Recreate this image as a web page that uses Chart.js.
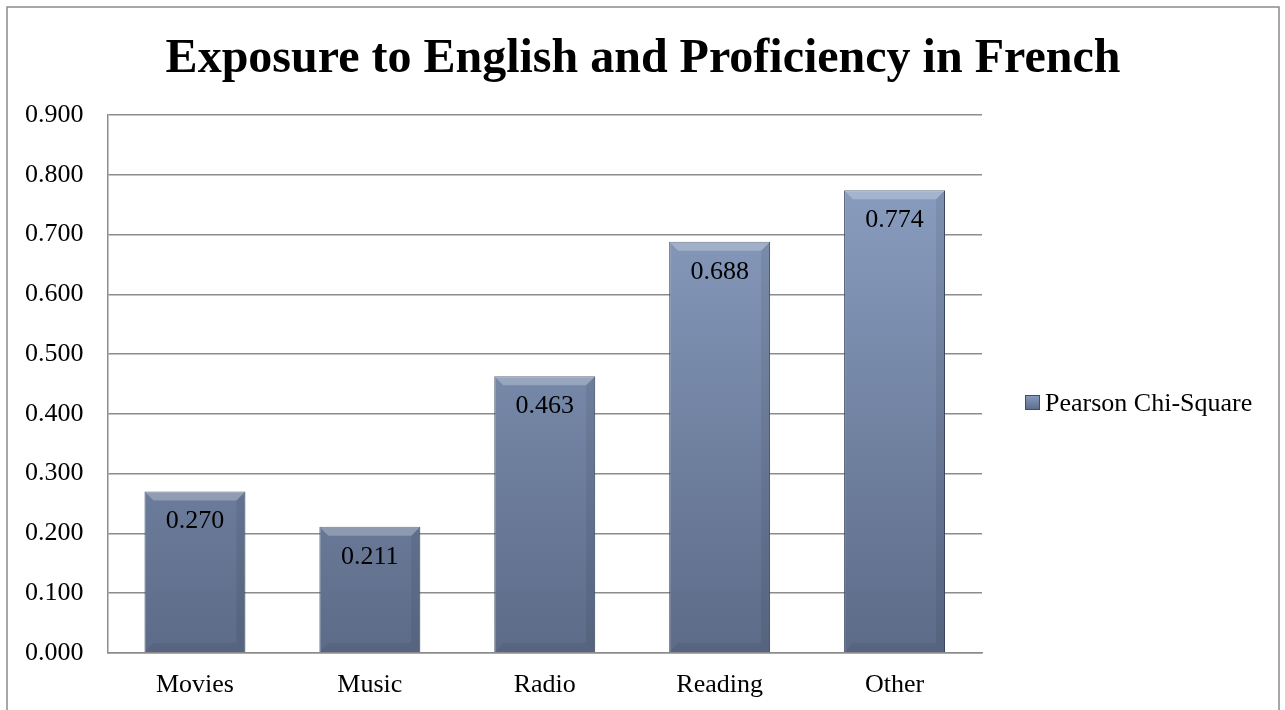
<!DOCTYPE html>
<html>
<head>
<meta charset="utf-8">
<script src="https://cdn.jsdelivr.net/npm/chart.js@4"></script>
<style>
  body { margin: 0; background: #fff; }
  #wrap { width: 1285px; height: 710px; }
</style>
</head>
<body>
<div id="wrap"><canvas id="myChart"></canvas></div>
<script>
var categorias = ['Movies', 'Music', 'Radio', 'Reading', 'Other'];
var valores = [0.270, 0.211, 0.463, 0.688, 0.774];
var serie = 'Pearson Chi-Square';
var titulo = 'Exposure to English and Proficiency in French';

function degradado(c, top, bottom) {
  var g = c.createLinearGradient(0, top, 0, bottom);
  g.addColorStop(0, '#899dc0');
  g.addColorStop(1, '#5c6b87');
  return g;
}

// borde exterior y titulo
var bordePlugin = {
  id: 'borde',
  afterDraw: function (chart) {
    var c = chart.ctx;
    c.save();
    c.strokeStyle = '#8a8a8a';
    c.lineWidth = 1.5;
    c.strokeRect(7, 7, chart.width - 13, chart.height + 10);
    c.font = 'bold 48px "Liberation Serif"';
    c.fillStyle = '#000';
    c.textAlign = 'center';
    c.textBaseline = 'alphabetic';
    c.fillText(titulo, 643, 72);
    c.restore();
  }
};

// bisel de las barras y etiquetas de valores
var etiquetasPlugin = {
  id: 'etiquetas',
  afterDatasetsDraw: function (chart) {
    var c = chart.ctx;
    var meta = chart.getDatasetMeta(0);
    c.save();
    meta.data.forEach(function (bar, i) {
      var l = bar.x - bar.width / 2, r = bar.x + bar.width / 2;
      var t = bar.y, b = bar.base, d = 9;
      c.fillStyle = 'rgba(255,255,255,0.25)';
      c.beginPath();
      c.moveTo(l, t); c.lineTo(r, t); c.lineTo(r - d, t + d); c.lineTo(l + d, t + d);
      c.closePath(); c.fill();
      c.fillStyle = 'rgba(0,0,0,0.06)';
      c.beginPath();
      c.moveTo(l, b); c.lineTo(r, b); c.lineTo(r - d, b - d); c.lineTo(l + d, b - d);
      c.closePath(); c.fill();
      c.fillStyle = 'rgba(0,0,0,0.07)';
      c.beginPath();
      c.moveTo(r, t); c.lineTo(r, b); c.lineTo(r - d, b - d); c.lineTo(r - d, t + d);
      c.closePath(); c.fill();
    });
    c.font = '26px "Liberation Serif"';
    c.fillStyle = '#000';
    c.textAlign = 'center';
    c.textBaseline = 'alphabetic';
    meta.data.forEach(function (bar, i) {
      c.fillText(valores[i].toFixed(3), bar.x, bar.y + 37);
    });
    c.restore();
  }
};

// leyenda a la derecha
var leyendaPlugin = {
  id: 'leyenda',
  afterDraw: function (chart) {
    var c = chart.ctx;
    c.save();
    c.fillStyle = degradado(c, 395, 410);
    c.fillRect(1025, 395, 15, 15);
    c.strokeStyle = '#3f4d66';
    c.lineWidth = 1;
    c.strokeRect(1025.5, 395.5, 14, 14);
    c.font = '26px "Liberation Serif"';
    c.fillStyle = '#000';
    c.textAlign = 'left';
    c.textBaseline = 'alphabetic';
    c.fillText(serie, 1045, 411);
    c.restore();
  }
};

var ctx = document.getElementById('myChart');

new Chart(ctx, {
  type: 'bar',
  data: {
    labels: categorias,
    datasets: [{
      label: serie,
      data: valores,
      backgroundColor: function (context) {
        var area = context.chart.chartArea;
        if (!area) return '#7489ab';
        return degradado(context.chart.ctx, area.top + 60, area.bottom);
      },
      borderColor: '#3f4d66',
      borderWidth: 1,
      barPercentage: 0.577,
      categoryPercentage: 1
    }]
  },
  options: {
    responsive: true,
    maintainAspectRatio: false,
    animation: false,
    layout: {
      padding: { left: 1, right: 303, top: 115, bottom: -8 }
    },
    plugins: {
      title: { display: false },
      legend: { display: false },
      tooltip: { enabled: false }
    },
    scales: {
      y: {
        min: 0,
        max: 0.9,
        ticks: {
          stepSize: 0.1,
          color: '#000',
          font: { family: 'Liberation Serif', size: 26 },
          padding: 24,
          callback: function (v) { return v.toFixed(3); }
        },
        grid: { color: '#8c8c8c', lineWidth: 1.5, drawTicks: false },
        border: { color: '#8c8c8c', width: 1.5 }
      },
      x: {
        ticks: {
          color: '#000',
          font: { family: 'Liberation Serif', size: 26 },
          padding: 17
        },
        grid: { display: false, drawTicks: false },
        border: { color: '#8c8c8c', width: 1.5 }
      }
    }
  },
  plugins: [bordePlugin, etiquetasPlugin, leyendaPlugin]
});
</script>
</body>
</html>
